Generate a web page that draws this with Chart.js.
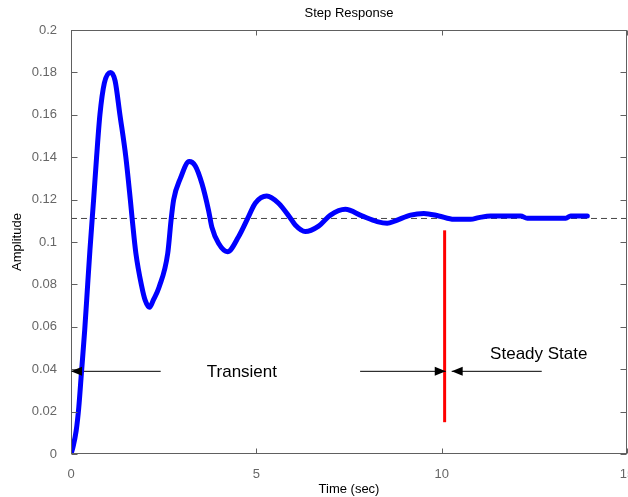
<!DOCTYPE html>
<html><head><meta charset="utf-8">
<script src="https://cdn.jsdelivr.net/npm/chart.js@4.4.1/dist/chart.umd.min.js"></script>
<style>html,body{margin:0;padding:0;background:#fff;}canvas{display:block;}</style>
</head><body>
<canvas id="c" width="628" height="497" style="width:628px;height:497px"></canvas>
<script>
// ---- data ----
const timeSec = [0, 0.05, 0.14, 0.21, 0.28, 0.37, 0.45, 0.51, 0.61, 0.69, 0.78, 0.9, 1.07, 1.19, 1.32, 1.48, 1.6, 1.65, 1.75, 1.91, 2.0, 2.12, 2.22, 2.38, 2.61, 2.70, 2.77, 2.95, 3.19, 3.35, 3.53, 3.71, 3.80, 3.98, 4.22, 4.52, 4.79, 4.97, 5.28, 5.60, 5.92, 6.05, 6.32, 6.68, 7.0, 7.4, 7.85, 8.26, 8.53, 8.75, 9.16, 9.52, 9.92, 10.33, 10.78, 11.0, 11.32, 12.13, 12.31, 13.35, 13.48, 13.93];
const amplitude = [0, 0.003, 0.011, 0.022, 0.038, 0.0585, 0.08, 0.096, 0.12, 0.14, 0.16, 0.175, 0.18, 0.176, 0.16, 0.14, 0.12, 0.111, 0.0947, 0.0789, 0.0726, 0.0692, 0.0726, 0.0789, 0.0947, 0.1104, 0.12, 0.13, 0.138, 0.136, 0.1277, 0.115, 0.107, 0.0994, 0.0954, 0.1025, 0.112, 0.1183, 0.1217, 0.1183, 0.1112, 0.108, 0.1049, 0.1075, 0.1127, 0.1154, 0.1123, 0.1096, 0.1088, 0.110, 0.1127, 0.1135, 0.1123, 0.1107, 0.1107, 0.1115, 0.1123, 0.1123, 0.1112, 0.1112, 0.1123, 0.1123];
const steadyStateValue = 0.1111;
const xTickLabels = ['0', '5', '10', '15'];
const yTickLabels = ['0', '0.02', '0.04', '0.06', '0.08', '0.1', '0.12', '0.14', '0.16', '0.18', '0.2'];
const settleTime = 10.08;
const settleLineRange = [0.015, 0.1055];
const arrowLevel = 0.039;
const transientArrow = [2.42, 0];      // [tail, tip]
const steadyArrowFromLeft = [7.8, 10.11];
const steadyArrowFromRight = [12.7, 10.27];
const annotationTexts = ['Transient', 'Steady State'];
const annotationTimes = [4.61, 12.62];
const annotationLevels = [0.0363, 0.0447];

const pts = (xs, ys) => xs.map((v, i) => ({x: v, y: ys[i]}));
const seg = (pair, level) => [{x: pair[0], y: level}, {x: pair[1], y: level}];
const FONT = "'Liberation Sans', Arial, Helvetica, sans-serif";

const decor = {
  id: 'decor',
  afterDatasetsDraw(chart) {
    const {ctx, chartArea: a, scales: {x, y}} = chart;
    ctx.save();
    const L = Math.floor(a.left) + 0.5, R = Math.floor(a.right) - 0.5,
          T = Math.floor(a.top) + 0.5, B = Math.floor(a.bottom) - 0.5;
    ctx.strokeStyle = '#606060'; ctx.lineWidth = 1;
    ctx.strokeRect(L, T, R - L, B - T);
    ctx.beginPath();
    x.ticks.forEach(tk => {
      const px = Math.round(x.getPixelForValue(tk.value)) + 0.5;
      ctx.moveTo(px, B); ctx.lineTo(px, B - 5);
      ctx.moveTo(px, T); ctx.lineTo(px, T + 5);
    });
    y.ticks.forEach(tk => {
      const py = Math.round(y.getPixelForValue(tk.value)) + 0.5;
      ctx.moveTo(L, py); ctx.lineTo(L + 6, py);
      ctx.moveTo(R, py); ctx.lineTo(R - 6, py);
    });
    ctx.stroke();
    // arrowheads
    ctx.fillStyle = '#000';
    const head = (pair) => {
      const tip = x.getPixelForValue(pair[1]);
      const dir = pair[1] > pair[0] ? 1 : -1;
      const py = y.getPixelForValue(arrowLevel);
      ctx.beginPath();
      ctx.moveTo(tip, py);
      ctx.lineTo(tip - dir * 11, py - 4.5);
      ctx.lineTo(tip - dir * 11, py + 4.5);
      ctx.closePath();
      ctx.fill();
    };
    head(transientArrow); head(steadyArrowFromLeft); head(steadyArrowFromRight);
    // texts
    ctx.font = '17px ' + FONT;
    ctx.textAlign = 'center'; ctx.textBaseline = 'alphabetic';
    annotationTexts.forEach((t, i) => {
      ctx.fillText(t, x.getPixelForValue(annotationTimes[i]), y.getPixelForValue(annotationLevels[i]));
    });
    ctx.restore();
  }
};

new Chart(document.getElementById('c'), {
  type: 'line',
  data: {
    datasets: [
      {data: pts(timeSec, amplitude), borderColor: '#0000ff', borderWidth: 5, pointRadius: 0,
       cubicInterpolationMode: 'monotone', borderCapStyle: 'round', borderJoinStyle: 'round', fill: false},
      {data: seg(transientArrow, arrowLevel), borderColor: '#000', borderWidth: 1, pointRadius: 0},
      {data: seg(steadyArrowFromLeft, arrowLevel), borderColor: '#000', borderWidth: 1, pointRadius: 0},
      {data: seg(steadyArrowFromRight, arrowLevel), borderColor: '#000', borderWidth: 1, pointRadius: 0},
      {data: [{x: settleTime, y: settleLineRange[0]}, {x: settleTime, y: settleLineRange[1]}], borderColor: '#ff0000', borderWidth: 3, pointRadius: 0},
      {data: [{x: 0, y: steadyStateValue}, {x: 15, y: steadyStateValue}], borderColor: '#444', borderWidth: 1, borderDash: [6, 4], pointRadius: 0}
    ]
  },
  options: {
    responsive: false, animation: false, devicePixelRatio: 1,
    layout: {padding: {top: 0, right: 1, bottom: 0, left: 0}},
    plugins: {
      legend: {display: false}, tooltip: {enabled: false},
      title: {display: true, text: 'Step Response', fullSize: false, color: '#000',
              font: {family: FONT, size: 13, weight: 'normal'}, padding: {top: 6, bottom: 8.4}}
    },
    scales: {
      x: {type: 'linear', min: 0, max: 15,
          grid: {display: false}, border: {display: false},
          ticks: {stepSize: 5, padding: 5, color: '#666', maxRotation: 0, autoSkip: false,
                  font: {family: FONT, size: 13}, callback: (v, i) => xTickLabels[i]},
          title: {display: true, text: 'Time (sec)', color: '#000', font: {family: FONT, size: 13}, padding: {top: 0, bottom: 0}},
          afterFit: s => { s.height = 43; s.paddingLeft = 0; s.paddingRight = 0; }},
      y: {type: 'linear', min: 0, max: 0.2,
          grid: {display: false}, border: {display: false},
          ticks: {stepSize: 0.02, padding: 6, color: '#666', autoSkip: false,
                  font: {family: FONT, size: 13}, callback: (v, i) => yTickLabels[i]},
          title: {display: true, text: 'Amplitude', color: '#000', font: {family: FONT, size: 13}, padding: {top: 10, bottom: 0}},
          afterFit: s => { s.width = 71; s.paddingTop = 0; s.paddingBottom = 0; }}
    }
  },
  plugins: [decor]
});
</script>
</body></html>
